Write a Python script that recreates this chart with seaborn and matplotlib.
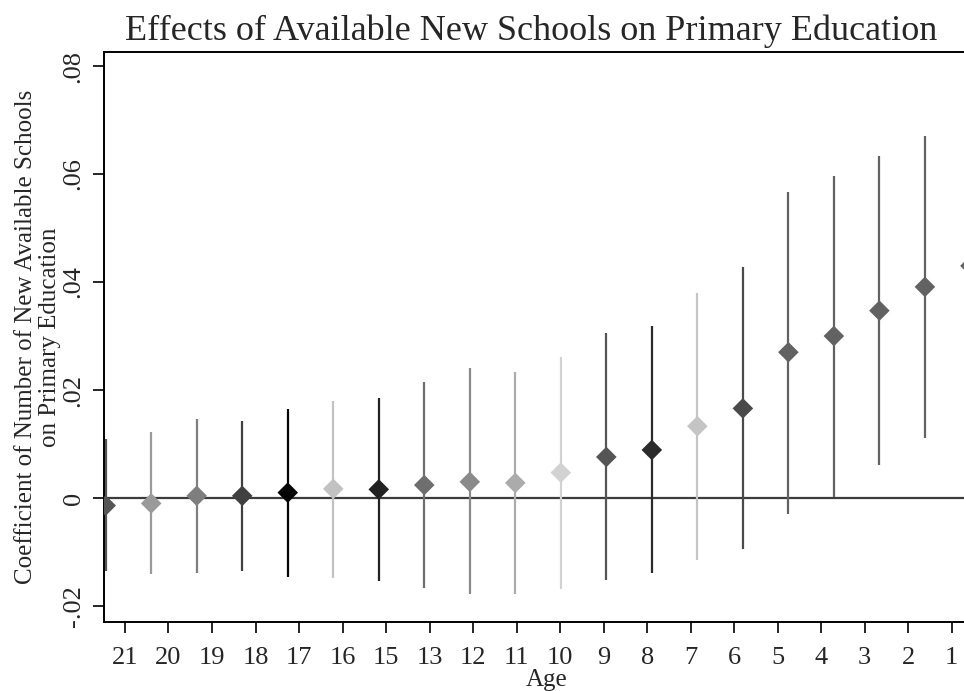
import numpy as np
import pandas as pd
import matplotlib
matplotlib.use("Agg")
import matplotlib.pyplot as plt
import seaborn as sns

# ages in plotting order (left to right)
ages = ["21", "20", "19", "18", "17", "16", "15", "13", "12", "11",
        "10", "9", "8", "7", "6", "5", "4", "3", "2", "1"]

coef = [-0.0014, -0.0010, 0.0004, 0.0004, 0.0010, 0.0017, 0.0016, 0.0024, 0.0030, 0.0028,
        0.0047, 0.0076, 0.0089, 0.0133, 0.0166, 0.0270, 0.0300, 0.0347, 0.0391, 0.0430]

ci_low = [-0.0136, -0.0141, -0.0139, -0.0136, -0.0146, -0.0148, -0.0153, -0.0167, -0.0178, -0.0177,
          -0.0168, -0.0152, -0.0138, -0.0114, -0.0095, -0.0029, 0.0002, 0.0061, 0.0112, 0.0150]

ci_high = [0.0109, 0.0122, 0.0147, 0.0143, 0.0165, 0.0180, 0.0185, 0.0214, 0.0240, 0.0234,
           0.0262, 0.0305, 0.0318, 0.0380, 0.0427, 0.0567, 0.0596, 0.0633, 0.0670, 0.0710]

shades = ["#555555", "#9a9a9a", "#7e7e7e", "#404040", "#050505", "#c2c2c2", "#222222", "#6e6e6e",
          "#8a8a8a", "#ababab", "#d2d2d2", "#555555", "#2b2b2b", "#c4c4c4", "#4a4a4a", "#626262",
          "#626262", "#626262", "#626262", "#626262"]

df = pd.DataFrame({"age": ages, "coef": coef, "lo": ci_low, "hi": ci_high})
df["pos"] = np.arange(len(df))

sns.set_style("white")
plt.rcParams["font.family"] = ["Liberation Serif", "DejaVu Serif"]

fig = plt.figure(figsize=(9.64, 6.91), dpi=100)
ax = fig.add_axes([104 / 964, 69 / 691, 886 / 964, 570 / 691])

ax.axhline(0, color="#3c3c3c", lw=1.6, zorder=1)
ax.vlines(df["pos"], df["lo"], df["hi"], colors=shades, lw=1.6, zorder=2)
sns.scatterplot(data=df, x="pos", y="coef", hue="age", palette=dict(zip(ages, shades)),
                marker="D", s=110, linewidth=0, legend=False, zorder=3, ax=ax)

ax.set_xlim(-0.037, 19.43)
ax.set_ylim(-0.02296, 0.0826)

# Stata places the age labels on a slightly narrower grid than the points
ax.set_xticks(np.linspace(0.424, 18.59, len(ages)))
ax.set_xticklabels(ages)
ax.set_yticks([-0.02, 0, 0.02, 0.04, 0.06, 0.08])
ax.set_yticklabels(["-.02", "0", ".02", ".04", ".06", ".08"], rotation=90, va="center")

ax.tick_params(axis="both", direction="out", length=8, width=1.2, color="black",
               labelsize=19, pad=6, bottom=True, left=True)
ax.tick_params(axis="x", pad=10)
for side in ["left", "bottom", "top"]:
    ax.spines[side].set_color("black")
    ax.spines[side].set_linewidth(1.4)
ax.spines["right"].set_visible(False)

ax.set_xlabel("Age", fontsize=18, labelpad=0)
ax.set_ylabel("Coefficient of Number of New Available Schools\non Primary Education",
              fontsize=18, labelpad=1, linespacing=1.1)

fig.text(531 / 964, 1 - 31 / 691, "Effects of Available New Schools on Primary Education",
         ha="center", va="center", fontsize=26)

fig.savefig("out.png", dpi=100)
plt.close(fig)
